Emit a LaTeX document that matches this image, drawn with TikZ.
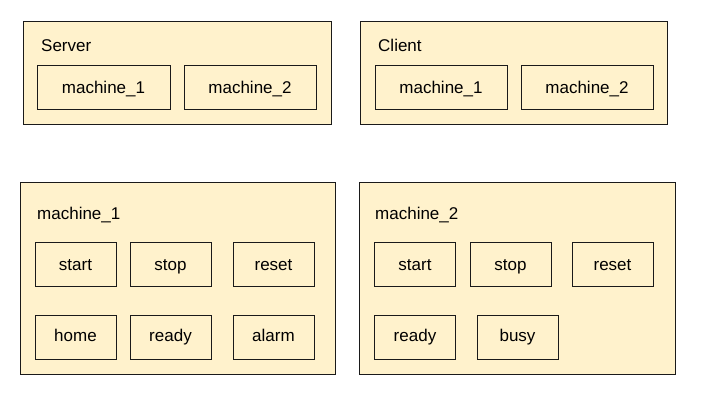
\documentclass[tikz,border=0pt]{standalone}
\usepackage{fontspec}
\setmainfont{Liberation Sans}
\definecolor{boxfill}{HTML}{FFF2CC}
\definecolor{boxline}{HTML}{1A1A1A}
\begin{document}
\begin{tikzpicture}[x=1pt,y=-1pt,
  group/.style={draw=boxline,fill=boxfill,line width=1pt,rectangle,inner sep=0pt,minimum height=#1},
  item/.style={draw=boxline,fill=boxfill,line width=1pt,rectangle,inner sep=0pt,minimum height=44pt,text height=16pt,text depth=4pt,font=\fontsize{17}{20}\selectfont},
  lowitem/.style={item,text height=14pt,text depth=6pt},
  title/.style={anchor=base west,inner sep=0pt,font=\fontsize{17}{20}\selectfont}]
\useasboundingbox (0,0) rectangle (701,406);
% top groups
\node[group=103pt,minimum width=308pt] (server) at (177,73.5) {};
\node[group=103pt,minimum width=307pt] (client) at (513.5,73.5) {};
\node[title] (servert) at (41,52) {Server};
\node[title] (clientt) at (378,52) {Client};
\node[item,minimum width=133pt] (sm1) at (103.5,88) {machine\_1};
\node[item,minimum width=132pt] (sm2) at (250,88) {machine\_2};
\node[item,minimum width=132pt] (cm1) at (441,88) {machine\_1};
\node[item,minimum width=132pt] (cm2) at (587,88) {machine\_2};
% bottom groups
\node[group=191pt,minimum width=315pt] (mone) at (177.5,278.5) {};
\node[group=191pt,minimum width=316pt] (mtwo) at (517,278.5) {};
\node[title] (monet) at (37,219) {machine\_1};
\node[title] (mtwot) at (375,219) {machine\_2};
\node[item,minimum width=81pt] (a1) at (75.5,264) {start};
\node[item,minimum width=81pt] (a2) at (170.5,264) {stop};
\node[item,minimum width=81pt] (a3) at (273.5,264) {reset};
\node[lowitem,minimum width=81pt] (a4) at (75.5,337) {home};
\node[lowitem,minimum width=81pt] (a5) at (170.5,337) {ready};
\node[lowitem,minimum width=81pt] (a6) at (273.5,337) {alarm};
\node[item,minimum width=81pt] (b1) at (415,264) {start};
\node[item,minimum width=81pt] (b2) at (510.5,264) {stop};
\node[item,minimum width=81pt] (b3) at (612.5,264) {reset};
\node[lowitem,minimum width=81pt] (b4) at (415,337) {ready};
\node[lowitem,minimum width=81pt] (b5) at (517.5,337) {busy};
\end{tikzpicture}
\end{document}
